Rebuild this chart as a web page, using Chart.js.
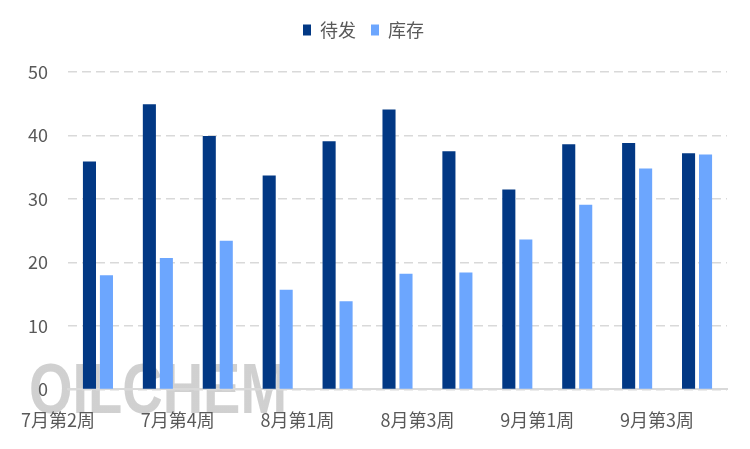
<!DOCTYPE html>
<html>
<head>
<meta charset="utf-8">
<script src="https://cdn.jsdelivr.net/npm/chart.js@4.4.1/dist/chart.umd.min.js"></script>
<style>
  html, body { margin: 0; padding: 0; background: #fff; }
  #wrap { width: 750px; height: 449px; }
</style>
</head>
<body>
<div id="wrap"><canvas id="chart" width="750" height="449"></canvas></div>
<script>
const weeks = [
  "7月第2周", "7月第3周", "7月第4周", "7月第5周", "8月第1周", "8月第2周",
  "8月第3周", "8月第4周", "9月第1周", "9月第2周", "9月第3周",
];
const pending = [35.9, 44.9, 39.9, 33.7, 39.1, 44.1, 37.5, 31.5, 38.6, 38.8, 37.2];
const stock = [18.0, 20.7, 23.4, 15.7, 13.9, 18.2, 18.4, 23.6, 29.1, 34.8, 37.0];
const yTicks = [0, 10, 20, 30, 40, 50];

const FONT = "'Noto Sans CJK SC', 'Noto Sans', sans-serif";
const TEXT = "#595959";

// faint watermark behind everything
const watermark = {
  id: "watermark",
  beforeDraw(chart) {
    const ctx = chart.ctx;
    ctx.save();
    ctx.font = "bold 70px 'Liberation Sans', " + FONT;
    ctx.textBaseline = "alphabetic";
    const w = ctx.measureText("OILCHEM").width;
    const g = ctx.createLinearGradient(0, 363, 0, 416);
    g.addColorStop(0, "rgba(200,200,200,0.85)");
    g.addColorStop(1, "rgba(255,255,255,0.6)");
    ctx.fillStyle = g;
    ctx.translate(29, 413);
    ctx.scale(258 / w, 1);
    ctx.fillText("OILCHEM", 0, 0);
    ctx.restore();
  },
};

// push the plot down below the legend
const legendGap = {
  id: "legendGap",
  beforeInit(chart) {
    const fit = chart.legend.fit;
    chart.legend.fit = function () {
      fit.bind(chart.legend)();
      this.height += 23;
    };
  },
};

new Chart(document.getElementById("chart"), {
  type: "bar",
  data: {
    labels: weeks,
    datasets: [
      {
        label: "待发",
        data: pending,
        backgroundColor: "#023884",
        categoryPercentage: 0.567,
        barPercentage: 0.77,
      },
      {
        label: "库存",
        data: stock,
        backgroundColor: "#6ca6fe",
        categoryPercentage: 0.567,
        barPercentage: 0.77,
      },
    ],
  },
  options: {
    responsive: false,
    animation: false,
    layout: { padding: { top: 6, right: 23, bottom: 6, left: 0 } },
    plugins: {
      tooltip: { enabled: false },
      legend: {
        position: "top",
        labels: {
          boxWidth: 8,
          boxHeight: 11,
          padding: 15,
          color: TEXT,
          font: { family: FONT, size: 18 },
        },
      },
    },
    scales: {
      x: {
        grid: { display: false },
        border: { display: true, color: "#d9d9d9", width: 2 },
        ticks: {
          autoSkip: false,
          maxRotation: 0,
          padding: 12,
          labelOffset: -40,
          color: TEXT,
          font: { family: FONT, size: 18 },
          callback: (v, i) => (i % 2 === 0 ? weeks[i] : ""),
        },
      },
      y: {
        min: 0,
        max: 50,
        afterFit(scale) { scale.width = 68; },
        afterBuildTicks(scale) { scale.ticks = yTicks.map((v) => ({ value: v })); },
        grid: { color: "#d9d9d9", lineWidth: 1.5, drawTicks: false },
        border: { display: false, dash: [9, 5] },
        ticks: {
          padding: 20,
          color: TEXT,
          font: { family: FONT, size: 18 },
        },
      },
    },
  },
  plugins: [watermark, legendGap],
});
</script>
</body>
</html>
